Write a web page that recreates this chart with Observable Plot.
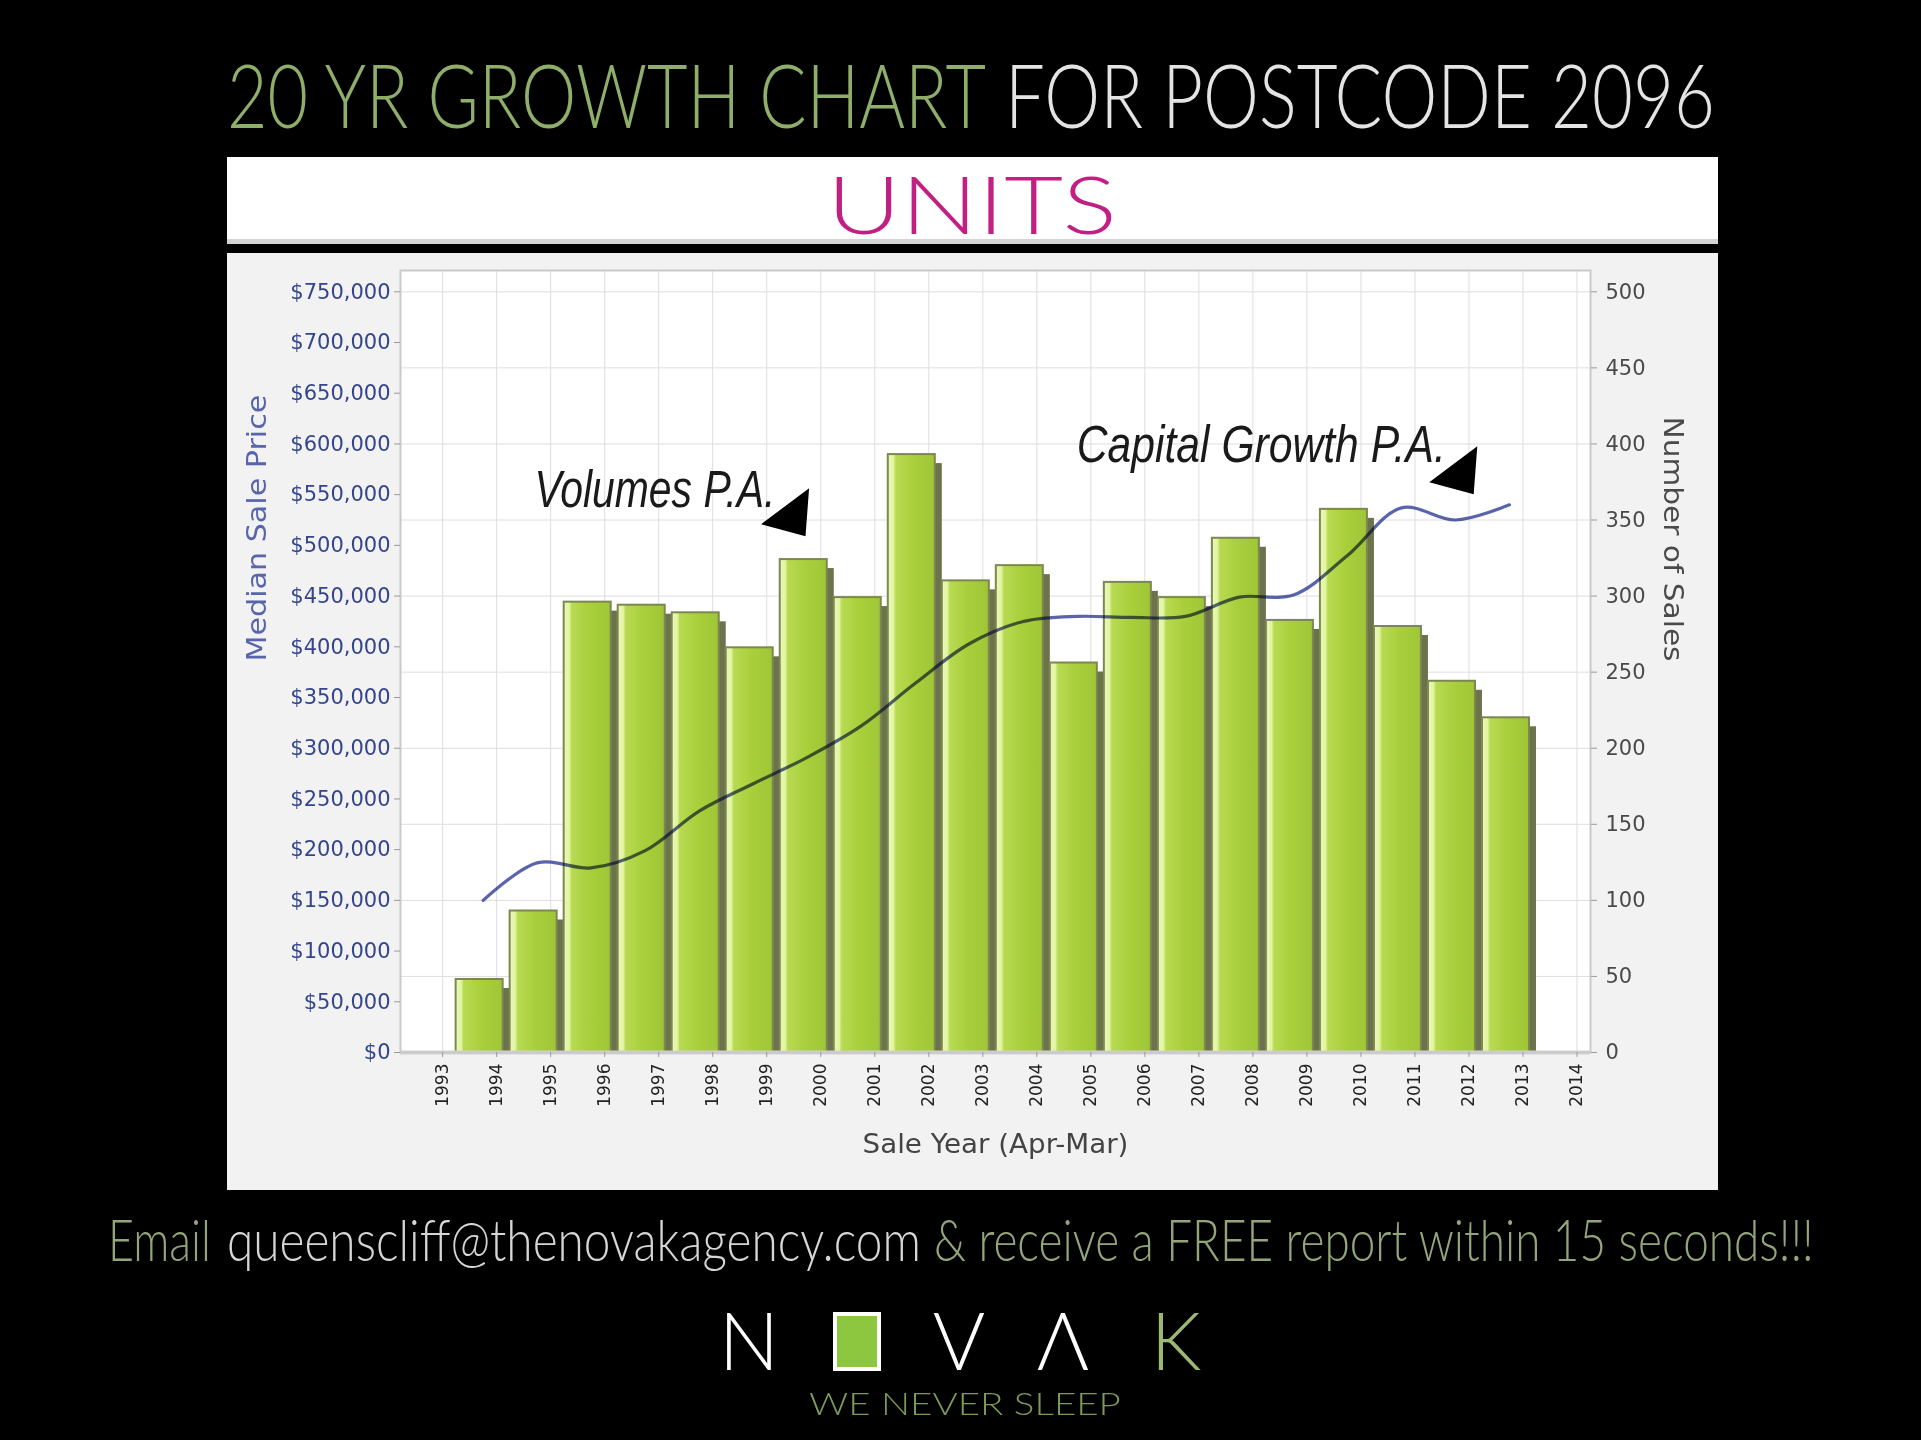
<!DOCTYPE html>
<html>
<head>
<meta charset="utf-8">
<script src="https://cdn.jsdelivr.net/npm/d3@7"></script>
<script src="https://cdn.jsdelivr.net/npm/@observablehq/plot@0.6"></script>
<style>
  html, body { margin: 0; padding: 0; background: #000; }
  body { width: 1921px; height: 1440px; position: relative; overflow: hidden; }
  .abs { position: absolute; left: 0; top: 0; }
  #chart { position: absolute; left: 227px; top: 253px; }
  .thin { font-family: Lato, 'Open Sans', sans-serif; font-weight: 300; }
</style>
</head>
<body>
<svg id="head" class="abs" width="1921" height="252" style="top:0">
  <text class="thin fit" data-w="759" x="227" y="128" font-size="88" fill="#8fae69">20 YR GROWTH CHART</text>
  <text class="thin fit" data-w="710" x="1005" y="128" font-size="88" fill="#e4e4e4">FOR POSTCODE 2096</text>
  <rect x="227" y="157" width="1491" height="86" fill="#ffffff"></rect>
  <rect x="227" y="239" width="1491" height="5" fill="#d4d4d4"></rect>
  <text class="thin fit" data-w="290" x="827" y="234" font-size="80" fill="#c21f82">UNITS</text>
</svg>
<div id="chart"></div>
<svg id="foot" class="abs" width="1921" height="250" style="top:1190px">
  <text class="thin fit" data-w="103" x="108" y="71" font-size="58" fill="#94a679">Email</text>
  <text class="thin fit" data-w="694" x="227" y="71" font-size="58" fill="#d6d6d6">queenscliff@thenovakagency.com</text>
  <text class="thin fit" data-w="880" x="934" y="71" font-size="58" fill="#94a679">&amp; receive a FREE report within 15 seconds!!!</text>
  <text class="thin" x="749" y="180" text-anchor="middle" font-size="80" fill="#ffffff">N</text>
  <rect x="835" y="124" width="44" height="55" fill="#8dc63f" stroke="#ffffff" stroke-width="4"></rect>
  <text class="thin" x="959" y="180" text-anchor="middle" font-size="80" fill="#ffffff">V</text>
  <text class="thin" x="1063" y="180" text-anchor="middle" font-size="80" fill="#ffffff">Λ</text>
  <text class="thin" x="1176" y="180" text-anchor="middle" font-size="80" fill="#9cb872">K</text>
  <text class="thin fit" data-w="312" x="809" y="225" font-size="32" fill="#7d9a58">WE NEVER SLEEP</text>
</svg>
<script>
// ---- Data ----
const years = [1994, 1995, 1996, 1997, 1998, 1999, 2000, 2001, 2002, 2003,
               2004, 2005, 2006, 2007, 2008, 2009, 2010, 2011, 2012, 2013];
const numberOfSales = [48, 93, 296, 294, 289, 266, 324, 299, 393, 310,
                       320, 256, 309, 299, 338, 284, 357, 280, 244, 220];
const medianSalePrice = [150000, 187000, 182000, 199000, 238000, 265000, 291000, 322000, 364000, 403000,
                         425000, 430000, 429000, 430000, 449000, 451000, 490000, 537000, 525000, 540000];
const xTickYears = [1993, 1994, 1995, 1996, 1997, 1998, 1999, 2000, 2001, 2002, 2003,
                    2004, 2005, 2006, 2007, 2008, 2009, 2010, 2011, 2012, 2013, 2014];
const priceTicks = [0, 50000, 100000, 150000, 200000, 250000, 300000, 350000, 400000,
                    450000, 500000, 550000, 600000, 650000, 700000, 750000];
const salesTicks = [0, 50, 100, 150, 200, 250, 300, 350, 400, 450, 500];
const salesToPrice = 1500; // right axis 500 sales lines up with $750,000
const annotationText = ["Volumes P.A.", "Capital Growth P.A."];
const annotationYear = [1994.70, 2004.74];
const annotationPrice = [537600, 582000];
const arrowYear = [1999.34, 2011.71];
const arrowPrice = [532700, 574000];

const table = years.map((year, i) => ({year, sales: numberOfSales[i], price: medianSalePrice[i]}));
const notes = annotationText.map((text, i) => ({text, x: annotationYear[i], y: annotationPrice[i], ax: arrowYear[i], ay: arrowPrice[i]}));

const cornerTriangle = {
  draw(context, size) {
    const s = Math.sqrt(size / Math.PI);
    context.moveTo(-s, 0.5 * s);
    context.lineTo(s, -s);
    context.lineTo(0.85 * s, s);
    context.closePath();
  }
};

const fontAxis = "'DejaVu Sans', sans-serif";

const chart = Plot.plot({
  width: 1491,
  height: 937,
  marginLeft: 173,
  marginRight: 128,
  marginTop: 17,
  marginBottom: 138,
  style: {background: "#f2f2f2", fontFamily: fontAxis},
  x: {type: "linear", domain: [1992.22, 2014.25], axis: null},
  y: {domain: [0, 771000], axis: null},
  marks: [
    Plot.frame({fill: "#ffffff"}),
    Plot.gridX(xTickYears, {stroke: "#dedede", strokeOpacity: 1}),
    Plot.gridY(salesTicks.map(v => v * salesToPrice), {stroke: "#dedede", strokeOpacity: 1}),
    // bar shadows
    Plot.rect(table, {
      x1: d => d.year - 0.75, x2: d => d.year + 0.25,
      y1: () => 0, y2: d => d.sales * salesToPrice,
      fill: "#6c734c", insetRight: 7, dx: 7, dy: 9, clip: true
    }),
    // bar faces
    Plot.rect(table, {
      x1: d => d.year - 0.75, x2: d => d.year + 0.25,
      y1: () => 0, y2: d => d.sales * salesToPrice,
      fill: "url(#barGrad)", stroke: "#7c8752", strokeWidth: 2, insetRight: 7
    }),
    Plot.ruleY([0], {stroke: "#d2d2d2", strokeWidth: 4}),
    Plot.frame({stroke: "#c9c9c9", strokeWidth: 2}),
    // median price line
    Plot.line(table, {
      x: d => d.year - 0.25, y: "price", curve: "catmull-rom",
      stroke: "#5a64ad", strokeWidth: 3.2, mixBlendMode: "multiply"
    }),
    Plot.axisY(priceTicks, {
      anchor: "left", tickFormat: d3.format("$,"), tickSize: 6, tickPadding: 4,
      fontSize: 21, fill: "#34458c", stroke: "#9a9a9a", label: null
    }),
    Plot.axisY(salesTicks.map(v => v * salesToPrice), {
      anchor: "right", tickFormat: d => String(d / salesToPrice), tickSize: 6, tickPadding: 9,
      fontSize: 21, fill: "#4a4a4a", stroke: "#9a9a9a", label: null
    }),
    Plot.axisX(xTickYears, {
      anchor: "bottom", tickRotate: -90, tickFormat: d => String(d), tickSize: 5, tickPadding: 6,
      fontSize: 17, fill: "#222222", stroke: "#9a9a9a", label: null
    }),
    Plot.text(["Median Sale Price"], {
      text: d => d, frameAnchor: "left", dx: -143, rotate: -90,
      fontSize: 26, fill: "#5a64ad"
    }),
    Plot.text(["Number of Sales"], {
      text: d => d, frameAnchor: "right", dx: 82, rotate: 90,
      fontSize: 26, fill: "#4a4a4a"
    }),
    Plot.text(["Sale Year (Apr-Mar)"], {
      text: d => d, frameAnchor: "bottom", dy: 100,
      fontSize: 26, fill: "#444444"
    }),
    Plot.text(notes, {
      x: "x", y: "y", text: "text", textAnchor: "start", lineAnchor: "bottom",
      fontSize: 52, fontStyle: "italic",
      fontFamily: "'Liberation Sans Narrow', 'Liberation Sans', sans-serif", fill: "#1a1a1a"
    }),
    Plot.dot(notes, {x: "ax", y: "ay", symbol: cornerTriangle, r: 24, fill: "#000000", stroke: "none"})
  ]
});

const svg = d3.select(chart);
svg.insert("defs", ":first-child").html(`
  <linearGradient id="barGrad" x1="0" x2="1" y1="0" y2="0">
    <stop offset="0" stop-color="#eaf8b6"></stop>
    <stop offset="0.12" stop-color="#e2f4a2"></stop>
    <stop offset="0.17" stop-color="#b8da52"></stop>
    <stop offset="0.55" stop-color="#a9cf3b"></stop>
    <stop offset="1" stop-color="#9fc637"></stop>
  </linearGradient>`);

document.getElementById("chart").appendChild(chart);

// Horizontally fit a text to a target width (the reference uses condensed faces)
function fitX(el, target) {
  const w = el.getComputedTextLength();
  if (!w) return;
  const k = target / w;
  const x = +el.getAttribute("x") || 0, y = +el.getAttribute("y") || 0;
  const prev = el.getAttribute("transform") || "";
  el.setAttribute("transform", `${prev} translate(${x},${y}) scale(${k},1) translate(${-x},${-y})`.trim());
}

const fitText = {
  "Volumes P.A.": 241,
  "Capital Growth P.A.": 369,
  "Median Sale Price": 267,
  "Number of Sales": 245,
  "Sale Year (Apr-Mar)": 266
};
svg.selectAll("text").each(function() {
  const t = this.textContent;
  if (fitText[t] != null) fitX(this, fitText[t]);
});
document.querySelectorAll("text.fit").forEach(el => fitX(el, +el.dataset.w));
</script>
</body>
</html>
